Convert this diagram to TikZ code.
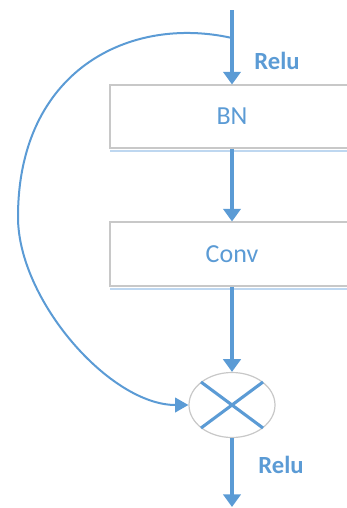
\documentclass[tikz,border=0pt]{standalone}
\usepackage{fontspec}
\setmainfont{Carlito}
\usetikzlibrary{arrows.meta,shapes.geometric,calc}
\definecolor{flowblue}{RGB}{91,155,213}
\definecolor{boxgray}{RGB}{200,200,200}
\definecolor{glowblue}{RGB}{190,215,240}

\begin{document}
\begin{tikzpicture}[x=0.75pt,y=0.75pt,yscale=-1,xscale=1,
  blk/.style={draw=boxgray,line width=0.8pt,fill=white,minimum width=183pt,inner sep=0pt,
    text=flowblue,font=\fontsize{19.5}{22}\selectfont},
  mult/.style={ellipse,draw=boxgray,line width=0.9pt,fill=white,minimum width=64.5pt,minimum height=48.75pt,inner sep=0pt},
  flow/.style={draw=flowblue,line width=2.3pt,-{Triangle[width=13pt,length=9.5pt]}},
  skip/.style={draw=flowblue,line width=1.5pt,-{Triangle[width=11pt,length=10pt]}},
  glow/.style={draw=glowblue,line width=2pt},
  lbl/.style={text=flowblue,font=\bfseries\fontsize{18.5}{22}\selectfont}]
\useasboundingbox (0,0) rectangle (347,508);

%Blocks
\node[blk,minimum height=47.25pt] (bn) at (232,116.5) {BN};
\node[blk,minimum height=48pt] (conv) at (232,254) {Conv};
\node[mult] (mul) at (232,405) {};

%Shadows under the blocks
\draw[glow] ($(bn.south west)+(1,2.5)$) -- ($(bn.south east)+(0,2.5)$);
\draw[glow] ($(conv.south west)+(1,2.5)$) -- ($(conv.south east)+(0,2.5)$);

%Cross in the ellipse
\draw[flowblue,line width=2.3pt] ($(mul.center)+(-31,-23)$) -- ($(mul.center)+(31,23)$);
\draw[flowblue,line width=2.3pt] ($(mul.center)+(-31,23)$) -- ($(mul.center)+(31,-23)$);

%Main path
\coordinate (top) at (232,10);
\coordinate (split) at (232,38);
\coordinate (out) at (232,507);
\draw[flow] (top) -- (bn);
\draw[flow] (bn) -- (conv);
\draw[flow] (conv) -- (mul);
\draw[flow] (mul) -- (out);

%Skip connection
\draw[skip] (split) .. controls (130,15) and (18,70) .. (18,217)
  .. controls (18,300) and (110,405) .. (mul.west);

%Labels
\node[lbl] (relu1) at (277,61) {Relu};
\node[lbl] (relu2) at (281,465) {Relu};

\end{tikzpicture}
\end{document}
